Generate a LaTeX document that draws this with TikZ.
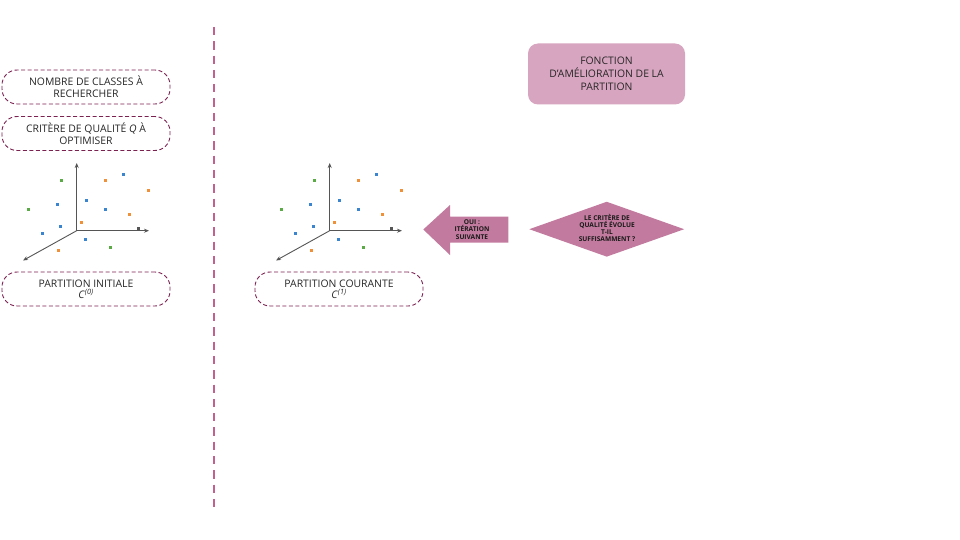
\documentclass[tikz,border=0pt]{standalone}
\usepackage{fontspec}
\setmainfont{Open Sans}
\usetikzlibrary{shapes.geometric,shapes.arrows,arrows.meta}
\definecolor{dashpink}{HTML}{C2608F}
\definecolor{boxborder}{HTML}{7B2150}
\definecolor{fonctfill}{HTML}{D8A5C0}
\definecolor{mauve}{HTML}{C27A9E}
\definecolor{ptgreen}{HTML}{5AAA46}
\definecolor{ptblue}{HTML}{3A85D0}
\definecolor{ptorange}{HTML}{F0913A}
\definecolor{axisgray}{HTML}{555555}
\tikzset{
  dashbox/.style={draw=boxborder, line width=0.9pt, dash pattern=on 4pt off 2.5pt, rounded corners=15pt,
    minimum width=168pt, minimum height=34pt, align=center, font=\fontsize{10.4}{12}\selectfont, text=black!85, inner sep=0pt},
  axisline/.style={draw=axisgray, line width=0.9pt, -{Stealth[length=5pt,width=4pt]}},
  pt/.style={fill=#1, minimum size=3pt, inner sep=0pt, draw=none, rectangle},
  smallbold/.style={align=center, font=\bfseries\fontsize{6.6}{6.9}\selectfont, text=black!90, inner sep=0pt},
}
\begin{document}
\begin{tikzpicture}[x=1pt,y=-1pt]
\useasboundingbox (0,0) rectangle (960,540);
\fill[white] (0,0) rectangle (960,540);
% vertical dashed separator
\coordinate (sepTop) at (214,27);
\coordinate (sepBot) at (214,512);
\draw[dashpink, line width=2.2pt, dash pattern=on 8.3pt off 6pt] (sepTop) -- (sepBot);

% left boxes
\node[dashbox] (nbcl) at (86,87) {NOMBRE DE CLASSES À\\RECHERCHER};
\node[dashbox] (crit) at (86,133.5) {CRITÈRE DE QUALITÉ \textit{Q} À\\OPTIMISER};
\node[dashbox] (pinit) at (86,289) {PARTITION INITIALE\\[-1pt]\textit{C}\textsuperscript{\textit{(0)}}};
\node[dashbox] (pcour) at (339,289) {PARTITION COURANTE\\[-1pt]\textit{C}\textsuperscript{\textit{(1)}}};

% scatter plots
\foreach \dx/\nm in {0/L,253/R}{
  \begin{scope}[xshift=\dx]
    \coordinate (o\nm) at (76.7,230.7);
    \coordinate (up\nm) at (76.7,163);
    \coordinate (ri\nm) at (149,230.7);
    \coordinate (dg\nm) at (23,260.5);
    \draw[axisline] (o\nm) -- (up\nm);
    \draw[axisline] (o\nm) -- (ri\nm);
    \draw[axisline] (o\nm) -- (dg\nm);
    \node[pt=ptgreen] (g1\nm) at (61.7,180.7) {};
    \node[pt=ptgreen] (g2\nm) at (28.3,209.3) {};
    \node[pt=ptgreen] (g3\nm) at (110,247.3) {};
    \node[pt=ptblue] (b1\nm) at (123.3,174.3) {};
    \node[pt=ptblue] (b2\nm) at (57.3,204.3) {};
    \node[pt=ptblue] (b3\nm) at (86,200) {};
    \node[pt=ptblue] (b4\nm) at (105,209.3) {};
    \node[pt=ptblue] (b5\nm) at (60.7,226.3) {};
    \node[pt=ptblue] (b6\nm) at (42.3,233) {};
    \node[pt=ptblue] (b7\nm) at (85.7,239.3) {};
    \node[pt=ptorange] (o1\nm) at (105,180.7) {};
    \node[pt=ptorange] (o2\nm) at (148.3,190.3) {};
    \node[pt=ptorange] (o3\nm) at (129,214) {};
    \node[pt=ptorange] (o4\nm) at (81.7,222.3) {};
    \node[pt=ptorange] (o5\nm) at (58.7,250) {};
    \node[pt=axisgray] (k1\nm) at (138.3,228.6) {};
  \end{scope}
}

% fonction box
\node[fill=fonctfill, rounded corners=10pt, minimum width=157pt, minimum height=61pt, align=center,
  font=\fontsize{10.4}{12.8}\selectfont, text=black!85, inner sep=0pt] (fonct) at (606.5,74)
  {FONCTION\\D'AMÉLIORATION DE LA\\PARTITION};

% diamond
\node[diamond, fill=mauve, aspect=2.8, minimum width=155pt, minimum height=55pt, inner sep=0pt] (dia) at (606.7,229.2) {};
\node[smallbold] (diatext) at (607,228) {LE CRITÈRE DE\\QUALITÉ ÉVOLUE\\T-IL\\SUFFISAMMENT ?};

% arrow
\fill[mauve] (423.3,229.5) -- (450,205) -- (450,216.7) -- (508.3,216.7) -- (508.3,242.7) -- (450,242.7) -- (450,255) -- cycle;
\node[smallbold, font=\bfseries\fontsize{6.6}{7.8}\selectfont] (oui) at (472,229.5)
  {OUI :\\ITÉRATION\\SUIVANTE};
\end{tikzpicture}
\end{document}
